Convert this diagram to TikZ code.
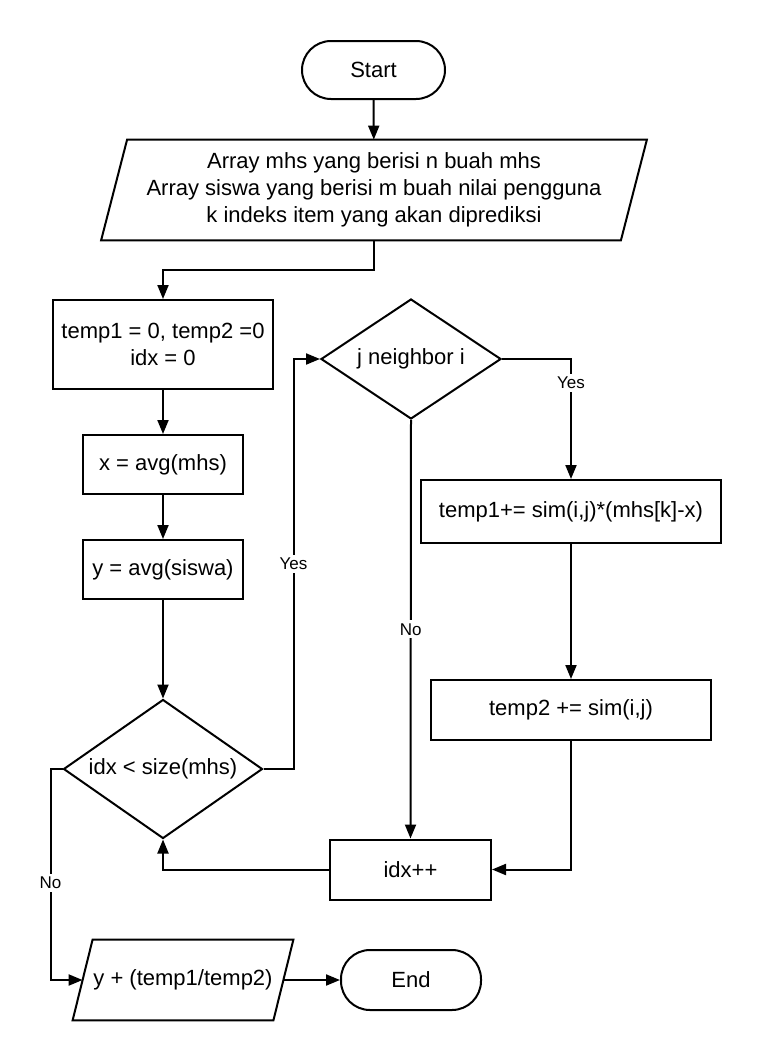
\documentclass[tikz,border=0pt]{standalone}
\usepackage{fontspec}
\setmainfont{Liberation Sans}
\usetikzlibrary{arrows.meta,calc,shapes.geometric}

\begin{document}
\begin{tikzpicture}[
    x=0.5pt, y=-0.5pt,
    font=\fontsize{11pt}{13.5pt}\selectfont,
    every node/.style={inner sep=0pt},
    outline/.style={line width=1pt},
    flowline/.style={line width=1pt, -{Triangle[length=7pt, width=5.5pt]}},
    procbox/.style={draw, outline, rectangle, align=center},
    terminal/.style={draw, outline, rectangle, rounded corners=14.5pt},
    datanode/.style={rectangle, align=center},
    decision/.style={draw, outline, diamond, shape aspect=1.5},
    branchlabel/.style={fill=white, inner sep=1.5pt,
      font=\fontsize{8.5pt}{10pt}\selectfont}
  ]

\useasboundingbox (0,0) rectangle (761,1060);

% ============================================================
% MAIN COLUMN: start, input, initialisation
% ============================================================
\node[terminal, minimum width=71.5pt, minimum height=29pt] (start) at (373.5,70) {Start};

\node[datanode, minimum width=259.5pt, minimum height=50pt] (input) at (374,190)
  {Array mhs yang berisi n buah mhs\\
   Array siswa yang berisi m buah nilai pengguna\\
   k indeks item yang akan diprediksi};
% slanted outline of the input box
\draw[outline]
  ($(input.north west)+(13,0)$) -- ($(input.north east)+(13,0)$)
  -- ($(input.south east)+(-13,0)$) -- ($(input.south west)+(-13,0)$) -- cycle;

\node[procbox, minimum width=110pt, minimum height=44.5pt] (init) at (163,344.5)
  {temp1 = 0, temp2 =0\\ idx = 0};
\node[procbox, minimum width=80pt, minimum height=29.5pt] (avgx) at (163,464.5) {x = avg(mhs)};
\node[procbox, minimum width=80pt, minimum height=29.5pt] (avgy) at (163,569.5) {y = avg(siswa)};

\node[decision, minimum width=99.5pt, minimum height=69.5pt] (loop) at (163,769) {idx < size(mhs)};

% ============================================================
% LOOP BODY
% ============================================================
\node[decision, minimum width=90pt, minimum height=60pt] (nbr) at (411,359) {j neighbor i};

\node[procbox, minimum width=150pt, minimum height=31.5pt] (sumone) at (571,511.5)
  {temp1+= sim(i,j)*(mhs[k]-x)};
\node[procbox, minimum width=140pt, minimum height=30pt] (sumtwo) at (571,710)
  {temp2 += sim(i,j)};

\node[procbox, minimum width=80.5pt, minimum height=30pt] (incr) at (410.5,869.5) {idx++};

% ============================================================
% OUTPUT
% ============================================================
\node[datanode, minimum width=100pt, minimum height=40pt] (result) at (183,980)
  {y + (temp1/temp2)};
% slanted outline of the output box
\draw[outline]
  ($(result.north west)+(10,0)$) -- ($(result.north east)+(10,0)$)
  -- ($(result.south east)+(-10,0)$) -- ($(result.south west)+(-10,0)$) -- cycle;

\node[terminal, minimum width=70pt, minimum height=30pt] (finish) at (411,980) {End};

% connectors
\draw[flowline] (start) -- (input);
\draw[flowline] (input.south) |- ($(input.south)!0.5!(init.north)$) -| (init.north);
\draw[flowline] (init) -- (avgx);
\draw[flowline] (avgx) -- (avgy);
\draw[flowline] (avgy) -- (loop);

\draw[flowline] (loop.east) -- ++(30,0)
  |- node[branchlabel, pos=0.25] {Yes} (nbr.west);
\draw[flowline] (nbr.east) -| node[branchlabel, pos=0.6] {Yes} (sumone.north);
\draw[flowline] (nbr.south) -- node[branchlabel, pos=0.5] {No} (incr.north);

\draw[flowline] (sumone) -- (sumtwo);
\draw[flowline] (sumtwo.south) |- (incr.east);
\draw[flowline] (incr.west) -| (loop.south);

\draw[flowline] (loop.west) -- ++(-12,0)
  |- node[branchlabel, pos=0.27] {No} (result.west);
\draw[flowline] (result.east) -- (finish.west);

\end{tikzpicture}
\end{document}
